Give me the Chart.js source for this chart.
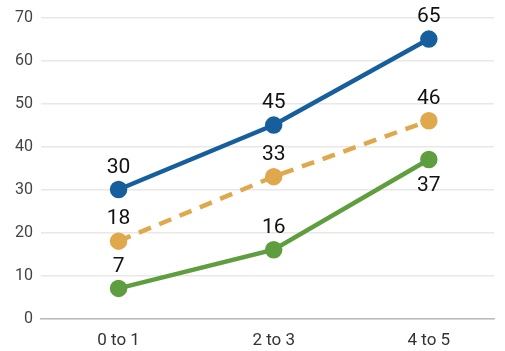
<!DOCTYPE html>
<html>
<head>
<meta charset="utf-8">
<script src="https://cdn.jsdelivr.net/npm/chart.js@4"></script>
<style>
  html, body { margin: 0; padding: 0; background: #fff; }
  #wrap { width: 505px; height: 351px; }
</style>
</head>
<body>
<div id="wrap"><canvas id="c"></canvas></div>
<script>
const categories = ['0 to 1', '2 to 3', '4 to 5'];
const seriesBlue = [30, 45, 65];
const seriesOrange = [18, 33, 46];
const seriesGreen = [7, 16, 37];
const yTicks = [0, 10, 20, 30, 40, 50, 60, 70];

const toPoints = arr => arr.map((v, i) => ({ x: i, y: v }));

// Value labels drawn above each point (or below, when flagged)
const valueLabels = {
  id: 'valueLabels',
  afterDatasetsDraw(chart) {
    const ctx = chart.ctx;
    ctx.save();
    ctx.font = '21px Roboto';
    ctx.fillStyle = '#111';
    ctx.textAlign = 'center';
    ctx.textBaseline = 'middle';
    chart.data.datasets.forEach((ds, di) => {
      const meta = chart.getDatasetMeta(di);
      meta.data.forEach((pt, i) => {
        const below = ds.labelBelow && ds.labelBelow[i];
        const y = below ? pt.y + 26 : pt.y - 22;
        ctx.fillText(String(ds.data[i].y), pt.x, y);
      });
    });
    ctx.restore();
  }
};

new Chart(document.getElementById('c'), {
  type: 'line',
  data: {
    datasets: [
      {
        data: toPoints(seriesBlue),
        borderColor: '#165f9c',
        backgroundColor: '#165f9c',
        borderWidth: 4.5,
        pointRadius: 6.5,
        pointHoverRadius: 6.5
      },
      {
        data: toPoints(seriesOrange),
        borderColor: '#e0a84c',
        backgroundColor: '#e0a84c',
        borderWidth: 4.5,
        borderDash: [13, 9],
        pointRadius: 6.5,
        pointHoverRadius: 6.5
      },
      {
        data: toPoints(seriesGreen),
        borderColor: '#5f9e3f',
        backgroundColor: '#5f9e3f',
        borderWidth: 4.5,
        pointRadius: 6.5,
        pointHoverRadius: 6.5,
        labelBelow: [false, false, true]
      }
    ]
  },
  options: {
    responsive: true,
    maintainAspectRatio: false,
    animation: false,
    layout: { padding: { top: 16, right: 0, left: 0, bottom: 0 } },
    plugins: { legend: { display: false }, tooltip: { enabled: false } },
    scales: {
      x: {
        type: 'linear',
        min: -0.5,
        max: 2.42,
        afterBuildTicks(scale) {
          scale.ticks = categories.map((_, i) => ({ value: i }));
        },
        afterFit(scale) { scale.height = 32.5; },
        ticks: {
          callback: v => categories[v],
          color: '#333',
          font: { family: 'Roboto', size: 17 },
          padding: 12,
          maxRotation: 0
        },
        grid: { display: false, drawTicks: false },
        border: { display: true, color: '#bbbbbb', width: 1.5 }
      },
      y: {
        min: 0,
        max: 70,
        afterBuildTicks(scale) {
          scale.ticks = yTicks.map(v => ({ value: v }));
        },
        afterFit(scale) { scale.width = 41; },
        ticks: {
          color: '#444',
          font: { family: 'Roboto', size: 16 },
          padding: 8
        },
        grid: { color: '#e8e8e8', lineWidth: 1.5, drawTicks: false },
        border: { display: false }
      }
    }
  },
  plugins: [valueLabels]
});
</script>
</body>
</html>
